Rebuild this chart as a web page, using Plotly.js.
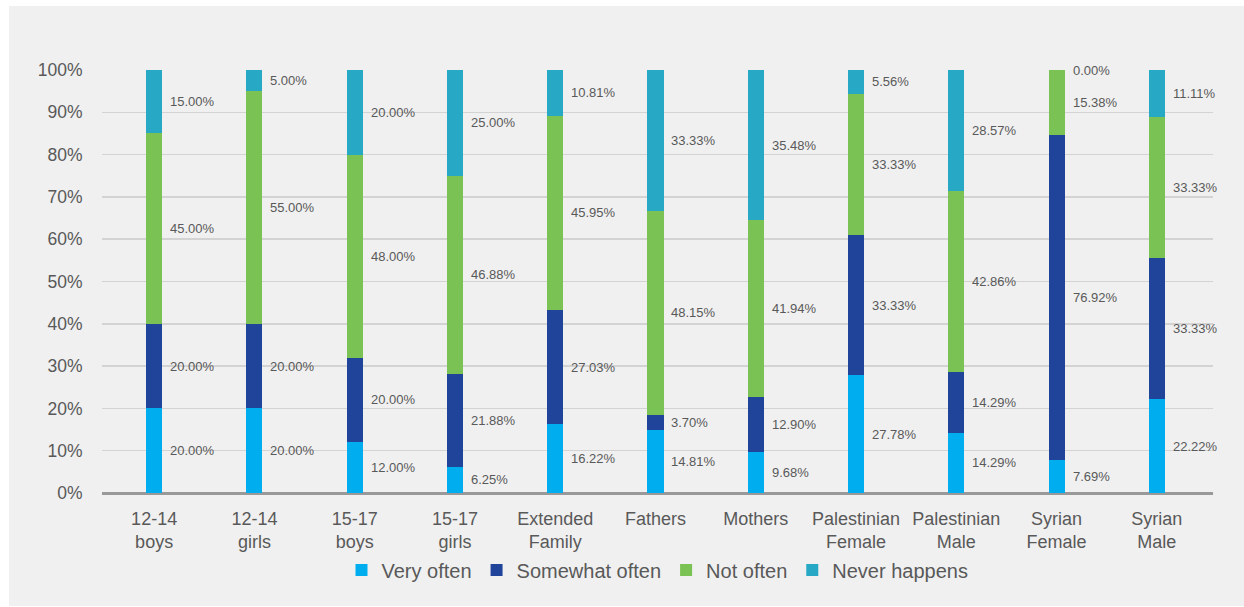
<!DOCTYPE html>
<html>
<head>
<meta charset="utf-8">
<script src="https://cdn.plot.ly/plotly-3.0.1.min.js"></script>
<style>
  html, body { margin: 0; padding: 0; background: #ffffff; width: 1244px; height: 607px; overflow: hidden; }
  #chart { position: absolute; left: 9px; top: 6px; width: 1235px; height: 600px; }
</style>
</head>
<body>
<div id="chart"></div>
<script>
const categories = ["12-14<br>boys", "12-14<br>girls", "15-17<br>boys", "15-17<br>girls", "Extended<br>Family", "Fathers", "Mothers", "Palestinian<br>Female", "Palestinian<br>Male", "Syrian<br>Female", "Syrian<br>Male"];
const seriesNames = ["Very often", "Somewhat often", "Not often", "Never happens"];
const veryOften     = [20.00, 20.00, 12.00, 6.25, 16.22, 14.81, 9.68, 27.78, 14.29, 7.69, 22.22];
const somewhatOften = [20.00, 20.00, 20.00, 21.88, 27.03, 3.70, 12.90, 33.33, 14.29, 76.92, 33.33];
const notOften      = [45.00, 55.00, 48.00, 46.88, 45.95, 48.15, 41.94, 33.33, 42.86, 15.38, 33.33];
const neverHappens  = [15.00, 5.00, 20.00, 25.00, 10.81, 33.33, 35.48, 5.56, 28.57, 0.00, 11.11];
const yTicks = [0, 10, 20, 30, 40, 50, 60, 70, 80, 90, 100];

const seriesValues = [veryOften, somewhatOften, notOften, neverHappens];
const colors = ["#00aeef", "#21449b", "#7ac254", "#27a9c5"];
const textColor = "#595959";
const fontFamily = "Arial, 'Liberation Sans', sans-serif";

const traces = seriesValues.map((vals, s) => ({
  type: "bar",
  name: seriesNames[s],
  x: categories,
  y: vals,
  marker: { color: colors[s] },
  width: 0.16,
  hoverinfo: "none"
}));

const annotations = [];
const cum = categories.map(() => 0);
seriesValues.forEach((vals) => {
  vals.forEach((v, i) => {
    annotations.push({
      x: categories[i],
      y: cum[i] + v / 2,
      xref: "x", yref: "y",
      text: v.toFixed(2) + "%",
      showarrow: false,
      xanchor: "left",
      yanchor: "middle",
      xshift: 14,
      font: { size: 13, color: textColor, family: fontFamily }
    });
    cum[i] += v;
  });
});

const layout = {
  width: 1235,
  height: 600,
  paper_bgcolor: "#f0f0f0",
  plot_bgcolor: "#f0f0f0",
  margin: { l: 93, r: 31, t: 64, b: 113, autoexpand: false },
  barmode: "stack",
  showlegend: true,
  font: { family: fontFamily, color: textColor },
  xaxis: {
    type: "category",
    range: [-0.52, 10.56],
    showgrid: false,
    showline: false,
    zeroline: false,
    ticks: "outside",
    ticklen: 9,
    tickcolor: "rgba(0,0,0,0)",
    tickfont: { size: 18, color: textColor, family: fontFamily },
    fixedrange: true
  },
  yaxis: {
    range: [0, 100],
    tickvals: yTicks,
    ticktext: yTicks.map(t => t + "%"),
    showgrid: true,
    gridcolor: "#d3d3d3",
    gridwidth: 1.5,
    zeroline: true,
    zerolinecolor: "#999999",
    zerolinewidth: 3,
    showline: false,
    ticks: "outside",
    ticklen: 15,
    tickcolor: "rgba(0,0,0,0)",
    tickfont: { size: 17.5, color: textColor, family: fontFamily },
    fixedrange: true
  },
  legend: {
    orientation: "h",
    x: 0.5,
    xref: "paper",
    xanchor: "center",
    y: 0.06,
    yref: "container",
    yanchor: "middle",
    bgcolor: "rgba(0,0,0,0)",
    font: { size: 20, color: textColor, family: fontFamily },
    traceorder: "normal",
    itemclick: false,
    itemdoubleclick: false
  },
  annotations: annotations
};

Plotly.newPlot("chart", traces, layout, { displayModeBar: false, staticPlot: true });
</script>
</body>
</html>
